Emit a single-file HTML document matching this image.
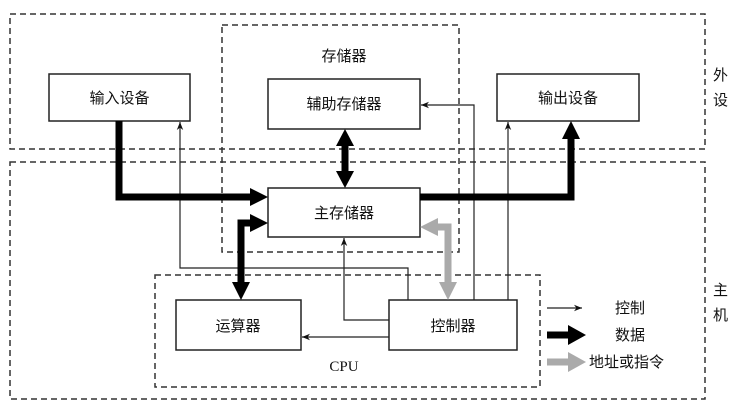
<!DOCTYPE html>
<html><head><meta charset="utf-8"><style>
html,body{margin:0;padding:0;background:#fff;}
svg{display:block;}
text{font-family:"Liberation Sans","Noto Sans CJK SC",sans-serif;font-size:15px;fill:#111;}
</style></head><body>
<svg width="746" height="407" viewBox="0 0 746 407" xmlns="http://www.w3.org/2000/svg">
<defs>
<marker id="t" viewBox="0 0 10 10" refX="10" refY="5" markerWidth="8" markerHeight="10" markerUnits="userSpaceOnUse" orient="auto"><path d="M0,1 L10,5 L0,9 L3,5 Z" fill="#111"/></marker>
</defs>
<g fill="none" stroke="#333" stroke-width="1.5" stroke-dasharray="6,4">
<rect x="10" y="14" width="695" height="135"/>
<rect x="10" y="162" width="695" height="237"/>
<rect x="222" y="25" width="237" height="227"/>
<rect x="155" y="275" width="385" height="112"/>
</g>
<g fill="#fff" stroke="#222" stroke-width="1.5">
<rect x="49" y="74" width="141" height="47"/>
<rect x="497" y="74" width="142" height="47"/>
<rect x="268" y="79" width="152" height="50"/>
<rect x="268" y="188" width="152" height="49"/>
<rect x="176" y="300" width="125" height="50"/>
<rect x="389" y="300" width="128" height="50"/>
</g>
<g fill="none" stroke="#222" stroke-width="1.2">
<polyline points="408,300 408,268 180,268 180,122" marker-end="url(#t)"/>
<polyline points="389,320 344,320 344,238" marker-end="url(#t)"/>
<polyline points="389,337 302,337" marker-end="url(#t)"/>
<polyline points="474,300 474,105 421,105" marker-end="url(#t)"/>
<polyline points="508,300 508,122" marker-end="url(#t)"/>
</g>
<g fill="none" stroke="#000" stroke-width="7">
<polyline points="119,121 119,197 252,197"/>
<polyline points="420,197 571,197 571,137"/>
<line x1="345" y1="144" x2="345" y2="173"/>
<polyline points="241,284 241,223 252,223"/>
</g>
<g fill="#000">
<polygon points="268,197 250,188 250,206"/>
<polygon points="571,121 562,139 580,139"/>
<polygon points="345,129 336,146 354,146"/>
<polygon points="345,188 336,171 354,171"/>
<polygon points="268,223 250,214 250,232"/>
<polygon points="241,300 232,282 250,282"/>
</g>
<g fill="none" stroke="#aaa" stroke-width="7">
<polyline points="436,227 448,227 448,284"/>
</g>
<g fill="#aaa">
<polygon points="420,227 438,218 438,236"/>
<polygon points="448,300 439,282 457,282"/>
</g>
<line x1="547" y1="308" x2="582" y2="308" stroke="#222" stroke-width="1.2" marker-end="url(#t)"/>
<line x1="547" y1="335" x2="570" y2="335" stroke="#000" stroke-width="7"/>
<polygon points="586,335 568,325 568,345" fill="#000"/>
<line x1="547" y1="362" x2="570" y2="362" stroke="#aaa" stroke-width="7"/>
<polygon points="586,362 568,352 568,372" fill="#aaa"/>
<text x="615" y="313">控制</text>
<text x="615" y="340">数据</text>
<text x="589" y="367">地址或指令</text>
<text x="119.5" y="103" text-anchor="middle">输入设备</text>
<text x="568" y="103" text-anchor="middle">输出设备</text>
<text x="344" y="109" text-anchor="middle">辅助存储器</text>
<text x="344" y="218" text-anchor="middle">主存储器</text>
<text x="238" y="331" text-anchor="middle">运算器</text>
<text x="453" y="331" text-anchor="middle">控制器</text>
<text x="344" y="61" text-anchor="middle">存储器</text>
<text x="344" y="371" text-anchor="middle" style="font-family:'Liberation Serif',serif;">CPU</text>
<text x="713" y="80">外</text>
<text x="713" y="105">设</text>
<text x="713" y="295">主</text>
<text x="713" y="320">机</text>
</svg>
</body></html>
